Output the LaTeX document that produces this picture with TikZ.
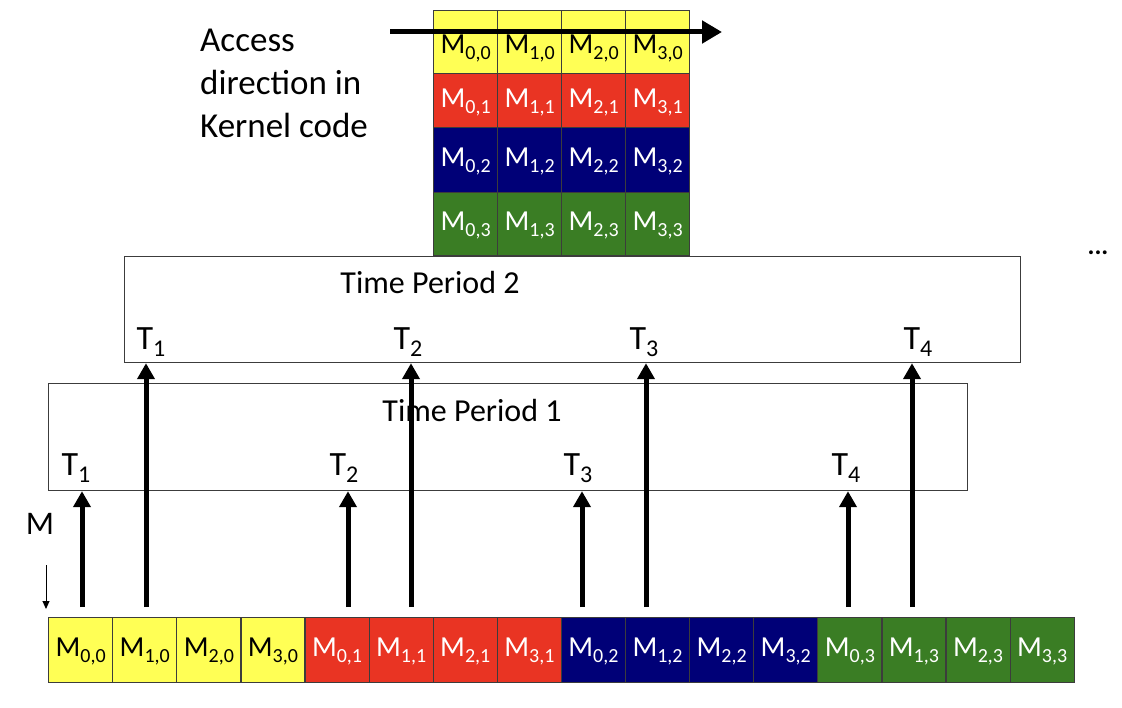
\documentclass[tikz,border=0pt]{standalone}
\usepackage{fontspec}
\setmainfont{Carlito}
\usetikzlibrary{arrows.meta}
\definecolor{cellyellow}{HTML}{FFFF55}
\definecolor{cellred}{HTML}{E93423}
\definecolor{cellblue}{HTML}{000077}
\definecolor{cellgreen}{HTML}{3A7D24}
\definecolor{edgegray}{HTML}{3C3C3C}
\newcommand\msub[1]{\raisebox{-0.45ex}{\fontsize{20}{20}\selectfont #1}}
\newcommand\tsub[1]{\raisebox{-0.45ex}{\fontsize{24}{24}\selectfont #1}}
\begin{document}
\begin{tikzpicture}[
  x=1pt, y=-1pt,
  cell/.style={draw=edgegray, line width=1.2pt, minimum width=64pt, inner sep=0pt, anchor=north west, text height=19pt, text depth=6pt, font=\fontsize{29}{31}\selectfont},
  period/.style={draw=edgegray, line width=1.2pt, inner sep=0pt, anchor=north west},
  label/.style={font=\fontsize{32}{34}\selectfont, inner sep=0pt},
  arrow/.style={line width=5pt, -{Triangle[length=16pt, width=17pt]}}
]
\useasboundingbox (0,0) rectangle (1122,708);

% memory as a 2D matrix
\foreach \r/\c/\tc/\y/\h/\th in {0/cellyellow/black/10/63/29, 1/cellred/white/73/54/19, 2/cellblue/white/127/65/19, 3/cellgreen/white/192/63/19}
  \foreach \i in {0,...,3}
    \node[cell, fill=\c, text=\tc, minimum height=\h pt, text height=\th pt] (m\i\r) at ({433+64*\i}, \y) {M\msub{\i,\r}};

% linear memory layout
\foreach \r/\c/\tc in {0/cellyellow/black, 1/cellred/white, 2/cellblue/white, 3/cellgreen/white}
  \foreach \i in {0,...,3}
    \node[cell, fill=\c, text=\tc, minimum width=64.1pt, minimum height=65pt] (lin\i\r) at ({48+64.1*(4*\r+\i)}, 617) {M\msub{\i,\r}};

% access direction
\node[label, font=\fontsize{35}{43}\selectfont, align=left, anchor=west] (access) at (200,83) {Access\\direction in\\Kernel code};
\coordinate (acc-s) at (390,32);
\coordinate (acc-e) at (722,32);
\draw[line width=5pt, -{Triangle[length=20pt, width=22pt]}] (acc-s) -- (acc-e);

% time periods
\node[period, minimum width=896pt, minimum height=106pt] (tp2) at (124,256) {};
\node[period, minimum width=919pt, minimum height=107pt] (tp1) at (48,383) {};
\node[label] (tp2-lbl) at (430,283) {Time Period 2};
\node[label] (tp1-lbl) at (472,411) {Time Period 1};
\foreach \k/\x in {1/151, 2/408, 3/644, 4/918}
  \node[label, font=\fontsize{34}{36}\selectfont] (tb\k) at (\x,342) {T\tsub{\k}};
\foreach \k/\x in {1/76, 2/344, 3/578, 4/846}
  \node[label, font=\fontsize{34}{36}\selectfont] (ta\k) at (\x,468) {T\tsub{\k}};
\node[font=\bfseries\fontsize{26}{26}\selectfont] (dots) at (1098,253) {...};

% thread loads
\foreach \k/\x in {1/82, 2/348, 3/582, 4/848} {
  \coordinate (sa\k) at (\x,607);
  \draw[arrow] (sa\k) -- (sa\k |- tp1.south);
}
\foreach \k/\x in {1/146, 2/411, 3/646, 4/912} {
  \coordinate (sb\k) at (\x,607);
  \draw[arrow] (sb\k) -- (sb\k |- tp2.south);
}

% M direction
\node[label, font=\fontsize{33}{35}\selectfont] (mlbl) at (40,524) {M};
\coordinate (md-s) at (46,565);
\coordinate (md-e) at (46,609);
\draw[line width=1pt, -{Triangle[length=8pt, width=7pt]}] (md-s) -- (md-e);
\end{tikzpicture}
\end{document}
